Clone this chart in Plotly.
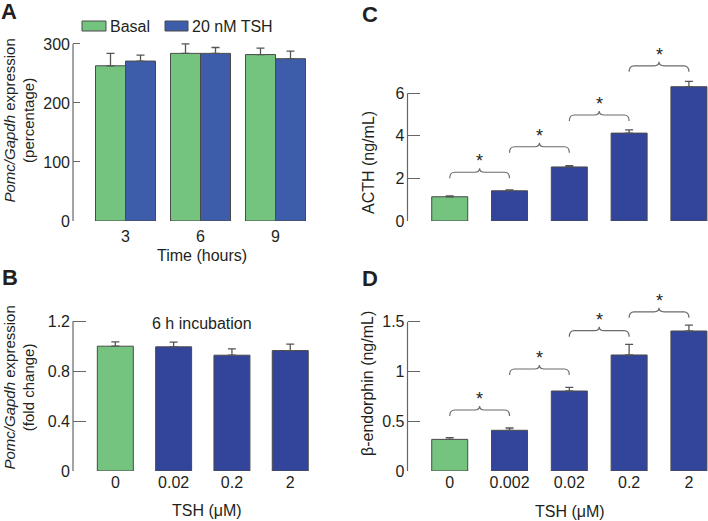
import plotly.graph_objects as go

# ---------------- data ----------------
# Panel A
a_times = ["3", "6", "9"]
a_basal = [263, 284, 282]
a_basal_err = [21, 16, 11]
a_tsh = [271, 284, 275]
a_tsh_err = [10, 10, 13]

# Panel B
b_doses = ["0", "0.02", "0.2", "2"]
b_vals = [1.0, 0.995, 0.928, 0.965]
b_err = [0.035, 0.037, 0.05, 0.052]

# Panel C
c_doses = ["0", "0.002", "0.02", "0.2", "2"]
c_vals = [1.14, 1.42, 2.54, 4.13, 6.31]
c_err = [0.04, 0.04, 0.06, 0.15, 0.25]
c_brace_y = [2.29, 3.49, 4.98, 7.29]

# Panel D
d_doses = ["0", "0.002", "0.02", "0.2", "2"]
d_vals = [0.318, 0.409, 0.804, 1.166, 1.407]
d_err = [0.017, 0.023, 0.037, 0.107, 0.06]
d_brace_y = [0.613, 1.025, 1.41, 1.60]

# ---------------- style ----------------
W, H = 708, 521
GREEN = "#74C47F"
BLUE_A = "#3D5DAA"
BLUE = "#33449B"
OUTLINE = "#4a4a4a"
AXC = "#666666"
TXT = "#231f20"
FONT = "Liberation Sans, Arial, sans-serif"
FS = 16


def px(x):
    return x / W


def py(y):
    return 1 - y / H


fig = go.Figure()


def bar(x, y, err, color, xa, ya, width, offset=None):
    kw = {}
    if offset is not None:
        kw["offset"] = offset
    fig.add_trace(go.Bar(
        x=x, y=y, width=width, xaxis=xa, yaxis=ya,
        marker=dict(color=color, line=dict(color=OUTLINE, width=1)),
        error_y=dict(type="data", array=err, arrayminus=[0] * len(err),
                     symmetric=False, color="#555555", thickness=1.3, width=4),
        showlegend=False, hoverinfo="skip", **kw))


# A
ax_pos = list(range(len(a_times)))
bar(ax_pos, a_basal, a_basal_err, GREEN, "x", "y", 0.4, -0.4)
bar(ax_pos, a_tsh, a_tsh_err, BLUE_A, "x", "y", 0.4, 0.0)
# B
bx_pos = list(range(len(b_doses)))
bar(bx_pos, b_vals, b_err, [GREEN] + [BLUE] * (len(b_vals) - 1), "x2", "y2", 0.617)
# C
cx_pos = list(range(len(c_doses)))
bar(cx_pos, c_vals, c_err, [GREEN] + [BLUE] * (len(c_vals) - 1), "x3", "y3", 0.602)
# D
dx_pos = list(range(len(d_doses)))
bar(dx_pos, d_vals, d_err, [GREEN] + [BLUE] * (len(d_vals) - 1), "x4", "y4", 0.602)

yaxis_common = dict(showgrid=False, zeroline=False, showline=False, automargin=False,
                    ticks="inside", ticklen=7, tickcolor=AXC, tickwidth=1.2,
                    tickfont=dict(size=FS, color=TXT, family=FONT),
                    ticklabelstandoff=2)
xaxis_common = dict(showgrid=False, zeroline=False, showline=False, ticks="",
                    automargin=False,
                    tickfont=dict(size=FS, color=TXT, family=FONT))

fig.update_layout(
    template="none",
    width=W, height=H, margin=dict(l=0, r=0, t=0, b=0, autoexpand=False),
    paper_bgcolor="white", plot_bgcolor="white", barmode="overlay",
    font=dict(family=FONT, size=FS, color=TXT),
    xaxis=dict(domain=[px(73), px(313)], range=[-0.7, 2.5], anchor="y",
               tickvals=ax_pos, ticktext=a_times, ticklabelstandoff=4, **xaxis_common),
    yaxis=dict(domain=[py(221), py(41)], range=[0, 305], anchor="x",
               tickvals=[0, 100, 200, 300], **yaxis_common),
    xaxis2=dict(domain=[px(73), px(319.4)], range=[-0.726, 3.5], anchor="y2",
                tickvals=bx_pos, ticktext=b_doses, ticklabelstandoff=0, **xaxis_common),
    yaxis2=dict(domain=[py(471), py(315)], range=[0, 1.25], anchor="x2",
                tickvals=[0, 0.4, 0.8, 1.2], ticktext=["0", "0.4", "0.8", "1.2"],
                **{**yaxis_common, "ticklen": 13}),
    xaxis3=dict(domain=[px(407.5), 1], range=[-0.706, 4.319], anchor="y3",
                tickvals=cx_pos, ticktext=[""] * len(c_doses), **xaxis_common),
    yaxis3=dict(domain=[py(221), py(46.5)], range=[0, 8.2], anchor="x3",
                tickvals=[0, 2, 4, 6], **{**yaxis_common, "ticklen": 12}),
    xaxis4=dict(domain=[px(407.5), 1], range=[-0.706, 4.319], anchor="y4",
                tickvals=dx_pos, ticktext=d_doses, ticklabelstandoff=0, **xaxis_common),
    yaxis4=dict(domain=[py(471), py(291.9)], range=[0, 1.8], anchor="x4",
                tickvals=[0, 0.5, 1, 1.5], ticktext=["0", "0.5", "1", "1.5"],
                **{**yaxis_common, "ticklen": 12}),
)

shapes = []
# axis lines (span 0 .. top tick)
for xr, yr, top in [("x", "y", 300), ("x2", "y2", 1.2), ("x3", "y3", 6), ("x4", "y4", 1.5)]:
    shapes.append(dict(type="line", xref=f"{xr} domain", yref=yr, x0=0, x1=0,
                       y0=0, y1=top, line=dict(color=AXC, width=1.2)))


def braces(xs, ys, xr, yr, unit_y, unit_x):
    # unit_y: data units per pixel in y; unit_x: data units per pixel in x
    d = 6 * unit_y
    u = 4 * unit_y
    c = 5 * unit_x
    out = []
    for i, yb in enumerate(ys):
        x0, x1 = xs[i], xs[i + 1]
        xm = (x0 + x1) / 2
        path = (f"M {x0},{yb - d} Q {x0},{yb} {x0 + c},{yb} L {xm - c},{yb} "
                f"Q {xm},{yb} {xm},{yb + u} Q {xm},{yb} {xm + c},{yb} "
                f"L {x1 - c},{yb} Q {x1},{yb} {x1},{yb - d}")
        out.append(dict(type="path", xref=xr, yref=yr, path=path,
                        line=dict(color="#6a6a6a", width=1.2)))
    return out


shapes += braces(cx_pos, c_brace_y, "x3", "y3", 1 / 21.28, 1 / 59.8)
shapes += braces(dx_pos, d_brace_y, "x4", "y4", 1 / 99.5, 1 / 59.8)

# manual legend boxes for panel A
shapes.append(dict(type="rect", xref="paper", yref="paper", x0=px(82), x1=px(106),
                   y0=py(31), y1=py(21), fillcolor=GREEN, line=dict(color=OUTLINE, width=1)))
shapes.append(dict(type="rect", xref="paper", yref="paper", x0=px(165), x1=px(188),
                   y0=py(31), y1=py(21), fillcolor=BLUE_A, line=dict(color=OUTLINE, width=1)))

ann = []


def text(x, y, s, size=FS, angle=0, bold=False, xanchor="center", yanchor="middle"):
    ann.append(dict(x=px(x), y=py(y), xref="paper", yref="paper", text=f"<b>{s}</b>" if bold else s,
                    showarrow=False, textangle=angle, xanchor=xanchor, yanchor=yanchor,
                    font=dict(size=size, color=TXT, family=FONT)))


# stars above braces
for i, yb in enumerate(c_brace_y):
    ann.append(dict(x=(cx_pos[i] + cx_pos[i + 1]) / 2, y=yb, xref="x3", yref="y3", text="*",
                    showarrow=False, yshift=11, font=dict(size=18, color=TXT, family=FONT)))
for i, yb in enumerate(d_brace_y):
    ann.append(dict(x=(dx_pos[i] + dx_pos[i + 1]) / 2, y=yb, xref="x4", yref="y4", text="*",
                    showarrow=False, yshift=11, font=dict(size=18, color=TXT, family=FONT)))

# panel letters
text(9, 11, "A", size=22, bold=True)
text(9.5, 277.5, "B", size=22, bold=True)
text(370, 14.5, "C", size=22, bold=True)
text(370, 278.5, "D", size=22, bold=True)

# legend texts
text(108, 26, "Basal", xanchor="left")
text(190, 26, "20 nM TSH", xanchor="left")

# axis titles
text(18.5, 121, "<i>Pomc/Gapdh</i> expression<br>(percentage)", size=15, angle=-90)
text(18.5, 388, "<i>Pomc/Gapdh</i> expression<br>(fold change)", size=15, angle=-90)
text(368, 163, "ACTH (ng/mL)", angle=-90)
text(367, 384, "β-endorphin (ng/mL)", angle=-90)
text(202, 255, "Time (hours)")
text(207, 510, "TSH (μM)")
text(570, 511, "TSH (μM)")
text(202, 323, "6 h incubation")

fig.update_layout(shapes=shapes, annotations=ann)
fig.write_html("out.html", config={"displayModeBar": False},
               post_script="document.body.style.margin='0';document.body.style.overflow='hidden';")
